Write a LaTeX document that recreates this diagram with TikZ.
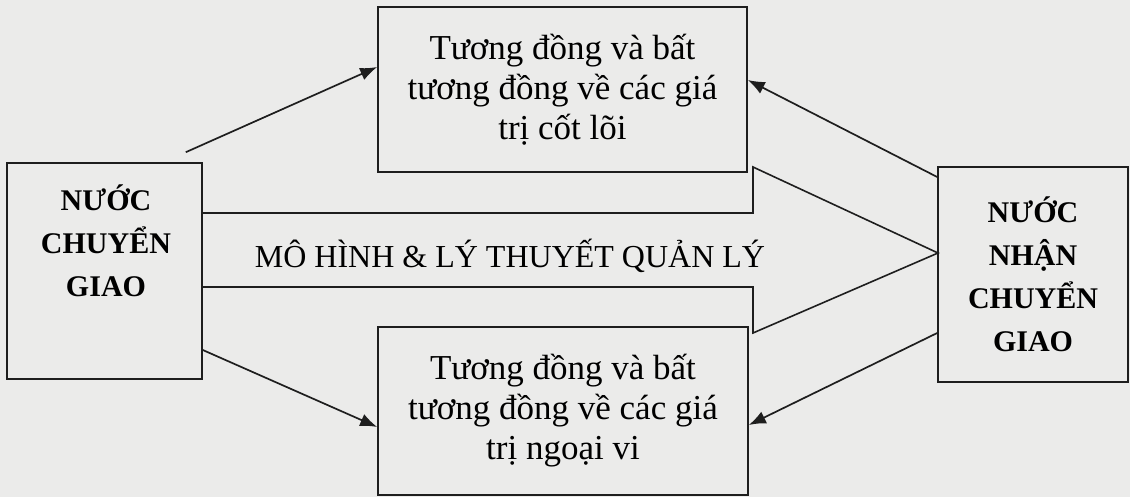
\documentclass[tikz,border=0pt]{standalone}
\usepackage{fontspec}
\setmainfont{Liberation Serif}
\usetikzlibrary{arrows.meta}
\definecolor{paper}{HTML}{EBEBEA}
\definecolor{ink}{HTML}{1E1E1E}
\tikzset{
  box/.style={draw=ink, line width=1.6pt, rectangle, inner sep=0pt, align=center},
  plain/.style={font=\fontsize{35}{40}\selectfont},
  heavy/.style={font=\fontsize{30}{43}\selectfont\bfseries, align=center, inner sep=0pt},
  link/.style={draw=ink, line width=1.7pt, -{Latex[length=17pt,width=13pt]}},
  bigarrow/.style={draw=ink, line width=1.6pt, line join=miter}
}
\begin{document}
\begin{tikzpicture}[x=1pt,y=-1pt]
  % page and paper tone
  \fill[paper] (0,0) rectangle (1130,497);
  \useasboundingbox (0,0) rectangle (1130,497);

  % the four boxes
  \node[box, minimum width=195pt, minimum height=216pt] (L) at (104.5,271) {};
  \node[heavy] (Ltext) at (106,241) {NƯỚC\\CHUYỂN\\GIAO};
  \node[box, minimum width=190pt, minimum height=215pt, font=\fontsize{30}{43}\selectfont\bfseries] (R) at (1033,274.5) {NƯỚC\\NHẬN\\CHUYỂN\\GIAO};
  \node[box, plain, minimum width=369pt, minimum height=165pt] (T) at (562.5,89.5) {Tương đồng và bất\\tương đồng về các giá\\trị cốt lõi};
  \node[box, plain, minimum width=370pt, minimum height=168pt] (B) at (563,411) {Tương đồng và bất\\tương đồng về các giá\\trị ngoại vi};

  % wide transfer arrow between the two countries
  \draw[bigarrow] (202,213) -- (753,213) -- (753,167) -- (938,253)
                  -- (753,333) -- (753,287) -- (202,287);
  \node[font=\fontsize{32}{36}\selectfont, anchor=base] (M) at (510,267) {MÔ HÌNH \& LÝ THUYẾT QUẢN LÝ};

  % thin arrows towards the value boxes
  \coordinate (s1) at ([xshift=-17pt,yshift=10pt]L.north east);
  \draw[link] (s1) -- ([yshift=22.5pt]T.west);
  \draw[link] ([yshift=-79pt]L.east) -- ([yshift=-16pt]B.west);
  \draw[link] ([yshift=97.5pt]R.west) -- ([yshift=9.5pt]T.east);
  \draw[link] ([yshift=-58.5pt]R.west) -- ([yshift=-14pt]B.east);
\end{tikzpicture}
\end{document}
